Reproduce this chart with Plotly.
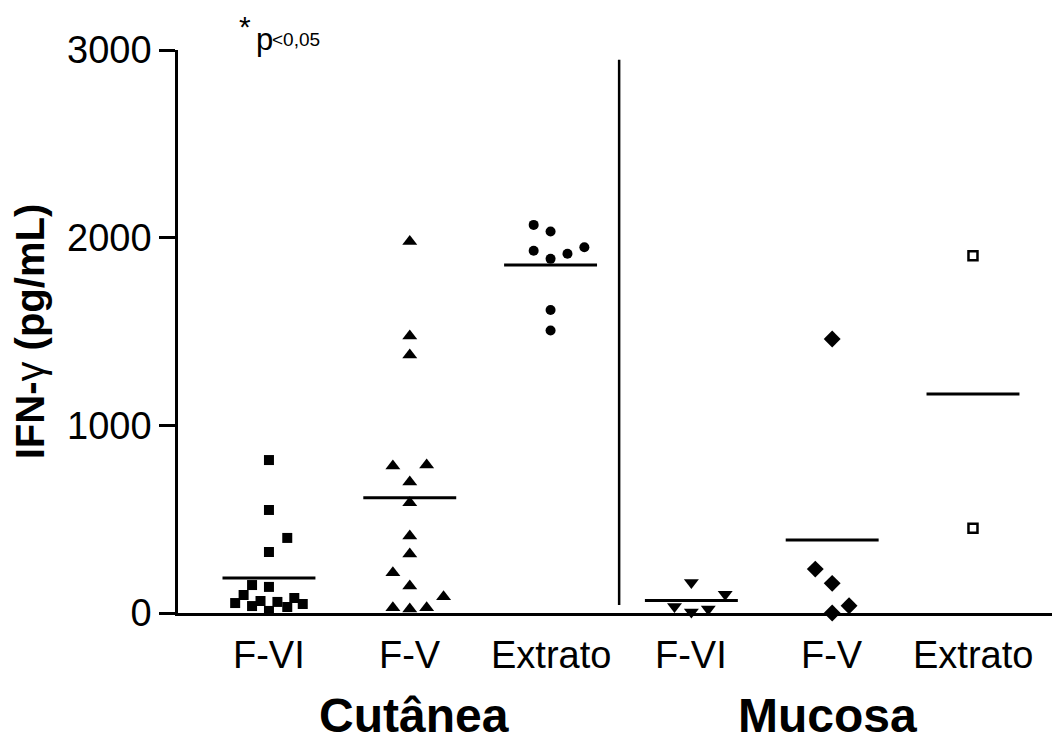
import plotly.graph_objects as go

categories = ["F-VI", "F-V", "Extrato", "F-VI", "F-V", "Extrato"]
groups = ["Cutânea", "Mucosa"]

cut_fvi = [815, 549, 400, 325, 149, 139, 96, 53, 37, 64, 59, 11, 32, 80, 48]
cut_fvi_jit = [0, 0, 0.13, 0, -0.12, 0, -0.18, -0.24, -0.12, -0.06, 0.06, 0, 0.13, 0.18, 0.24]
cut_fv = [1979, 1476, 1375, 783, 789, 698, 588, 410, 314, 215, 144, 87, 28, 21, 28]
cut_fv_jit = [0, 0, 0, -0.12, 0.12, 0, 0, 0, 0, -0.12, 0, 0.24, -0.12, 0, 0.12]
cut_ext = [2068, 2033, 1930, 1887, 1914, 1949, 1615, 1505]
cut_ext_jit = [-0.12, 0, -0.12, 0, 0.12, 0.24, 0, 0]
muc_fvi = [162, 100, 34, 5, 21]
muc_fvi_jit = [0, 0.24, -0.12, 0, 0.12]
muc_fv = [1460, 234, 158, 39, 0]
muc_fv_jit = [0, -0.12, 0, 0.12, 0]
muc_ext = [1903, 451]
muc_ext_jit = [0, 0]

group_means = [187, 614, 1855, 66, 389, 1167]

yticks = [0, 1000, 2000, 3000]

series = [
    (cut_fvi, cut_fvi_jit, "square", 10, 0),
    (cut_fv, cut_fv_jit, "triangle-up", 13, 0),
    (cut_ext, cut_ext_jit, "circle", 10, 0),
    (muc_fvi, muc_fvi_jit, "triangle-down", 13, 0),
    (muc_fv, muc_fv_jit, "diamond", 13, 0),
    (muc_ext, muc_ext_jit, "square-open", 9, 2.5),
]

fig = go.Figure()
FONT = "Liberation Sans, Arial, sans-serif"

for i, (vals, jit, sym, size, lw) in enumerate(series):
    fig.add_trace(go.Scatter(
        x=[i + j for j in jit], y=vals, mode="markers",
        marker=dict(symbol=sym, size=size, color="black",
                    line=dict(color="black", width=lw)),
        cliponaxis=False, showlegend=False, hoverinfo="y"))
    fig.add_trace(go.Scatter(
        x=[i - 0.33, i + 0.33], y=[group_means[i], group_means[i]],
        mode="lines", line=dict(color="black", width=3),
        cliponaxis=False, showlegend=False, hoverinfo="skip"))

# divider
fig.add_shape(type="line", x0=2.487, x1=2.487, y0=43, y1=2948,
              line=dict(color="black", width=2.5))

PH = 563.0
PW = 882.0
for i, c in enumerate(categories):
    fig.add_annotation(x=i, y=-(655 - 613) / PH, xref="x", yref="paper", text=c,
                       showarrow=False, yanchor="middle",
                       font=dict(family=FONT, size=38, color="black"))

for xc, g in zip([1.03, 3.97], groups):
    fig.add_annotation(x=xc, y=-(716 - 613) / PH, xref="x", yref="paper", text=g,
                       showarrow=False, yanchor="middle",
                       font=dict(family=FONT, size=48, color="black", weight="bold"))

# p-value note
fig.add_annotation(x=(237 - 178) / PW, y=(613 - 27) / PH, xref="paper", yref="paper",
                   text="*", showarrow=False, xanchor="left", yanchor="middle",
                   font=dict(family=FONT, size=30, color="black"))
fig.add_annotation(x=(254 - 178) / PW, y=(613 - 40) / PH, xref="paper", yref="paper",
                   text="p", showarrow=False, xanchor="left", yanchor="middle",
                   font=dict(family=FONT, size=31, color="black"))
fig.add_annotation(x=(270 - 178) / PW, y=(613 - 40) / PH, xref="paper", yref="paper",
                   text="&lt;0,05", showarrow=False, xanchor="left", yanchor="middle",
                   font=dict(family=FONT, size=19, color="black"))

fig.update_layout(
    width=1052, height=736,
    margin=dict(l=170, r=0, t=42, b=131, autoexpand=False),
    plot_bgcolor="white", paper_bgcolor="white",
    xaxis=dict(range=[-0.646, 5.618], showgrid=False, zeroline=False,
               showline=True, linecolor="black", linewidth=2.5,
               showticklabels=False, ticks=""),
    yaxis=dict(range=[0, 3000], tickvals=yticks, ticktext=[str(t) for t in yticks],
               showgrid=False, zeroline=False, showline=True, linecolor="black",
               linewidth=2.5, ticks="outside", ticklen=16, tickwidth=2.5,
               tickcolor="black",
               tickfont=dict(family=FONT, size=38, color="black"),
               title=dict(text="<b>IFN-</b>γ<b> (pg/mL)</b>", standoff=16,
                          font=dict(family=FONT, size=40, color="black"))),
)

fig.write_html("out.html")
